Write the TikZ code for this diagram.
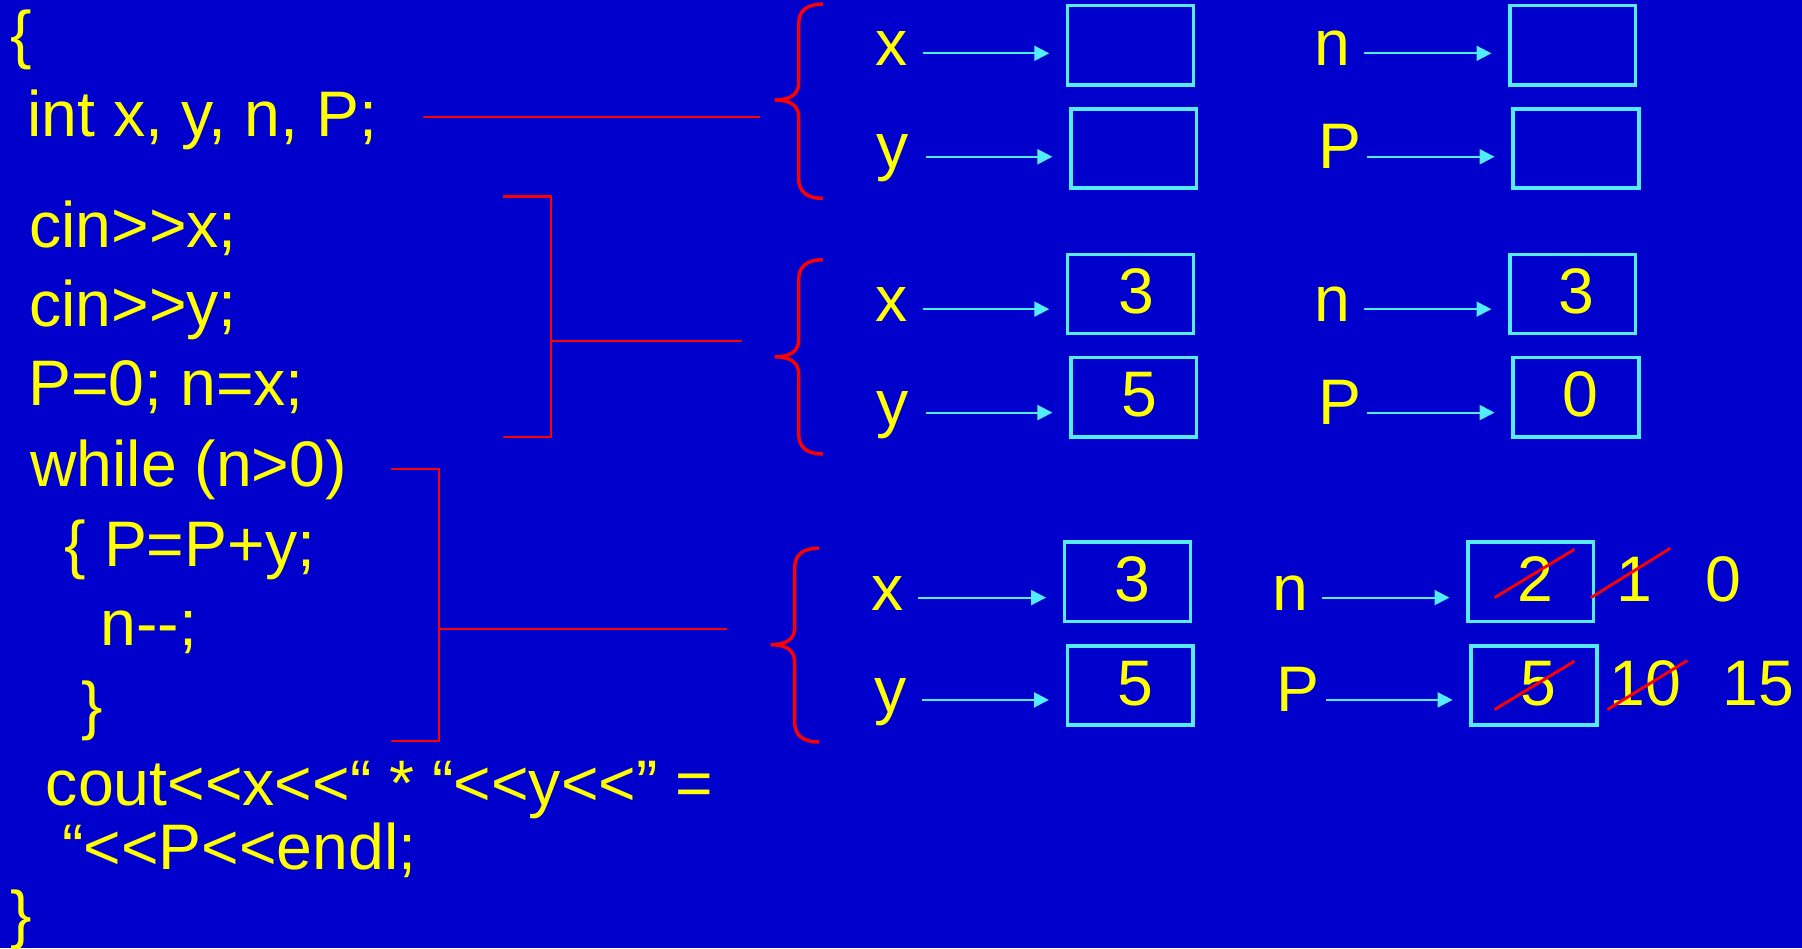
\documentclass[tikz,border=0pt]{standalone}
\usepackage{fontspec}
\setmainfont{Liberation Sans}
\usetikzlibrary{arrows.meta}
\definecolor{bgblue}{RGB}{0,0,204}
\definecolor{codeyellow}{RGB}{255,255,0}
\definecolor{linered}{RGB}{255,0,0}
\definecolor{boxcyan}{RGB}{85,235,255}
\newcommand\redcurly[4]{% #1 vertical x, #2 top y, #3 tip y, #4 bottom y
  \draw[curly] ({#1+21},#2) .. controls ({#1+7},#2) and (#1,{#2+6}) .. (#1,{#2+17})
    -- (#1,{#3-15}) .. controls (#1,{#3-5}) and ({#1-7},#3) .. ({#1-21},#3)
    .. controls ({#1-7},#3) and (#1,{#3+5}) .. (#1,{#3+15})
    -- (#1,{#4-17}) .. controls (#1,{#4-6}) and ({#1+7},#4) .. ({#1+21},#4);}
\begin{document}
\begin{tikzpicture}[x=1pt,y=-1pt,
  code/.style={anchor=base west, inner sep=0pt, outer sep=0pt, text=codeyellow, font=\fontsize{56}{60}\selectfont},
  lbl/.style={code, font=\fontsize{56}{60}\selectfont},
  digit/.style={anchor=base, inner sep=0pt, outer sep=0pt, text=codeyellow, font=\fontsize{56}{60}\selectfont},
  membox/.style={draw=boxcyan, line width=3pt, minimum width=109.5pt, minimum height=69pt, inner sep=0pt, outer sep=0pt},
  arr/.style={draw=boxcyan, line width=1.8pt, -{Triangle[length=13pt,width=13pt]}, shorten >=16pt},
  wire/.style={draw=linered, line width=1.8pt},
  curly/.style={draw=linered, line width=3pt},
  strike/.style={draw=linered, line width=2.5pt}]
\useasboundingbox (0,0) rectangle (1568,825);
\fill[bgblue] (0,0) rectangle (1568,825);

% code
\node[code] (t0) at (9.5,49) {\{};
\node[code] (t1) at (24,119) {int x, y, n, P;};
\node[code] (t2) at (25.5,215) {cin>{}>x;};
\node[code] (t3) at (25.5,284) {cin>{}>y;};
\node[code] (t4) at (24.6,353) {P=0; n=x;};
\node[code] (t5) at (26.3,423) {while (n>0)};
\node[code] (t6) at (56.3,493) {\{ P=P+y;};
\node[code] (t7) at (87.4,562) {n-{}-;};
\node[code] (t8) at (71.3,633) {\}};
\node[code] (t9) at (40,701) {cout<{}<x<{}<“ * “<{}<y<{}<” =};
\node[code] (t10) at (54,757) {“<{}<P<{}<endl;};
\node[code] (t11) at (9.5,815) {\}};

% connectors
\coordinate (c1a) at (368,101.5); \coordinate (c1b) at (661,101.5);
\draw[wire] (c1a) -- (c1b);
\coordinate (c2t) at (438,171); \coordinate (c2b) at (438,380);
\coordinate (c2m) at (479.6,296.6); \coordinate (c2e) at (646,296.6);
\draw[wire] (c2t) -- (c2t -| c2m) -- (c2b -| c2m) -- (c2b);
\draw[wire] (c2m) -- (c2e);
\coordinate (c3t) at (340,408); \coordinate (c3b) at (340,645);
\coordinate (c3m) at (382,547.5); \coordinate (c3e) at (633,547.5);
\draw[wire] (c3t) -- (c3t -| c3m) -- (c3b -| c3m) -- (c3b);
\draw[wire] (c3m) -- (c3e);

% braces
\redcurly{695}{3.5}{87}{172.6}
\redcurly{695}{226}{310.5}{395}
\redcurly{691.5}{477}{561}{645.6}

% group 1
\node[membox] (b1x) at (983.75,39.5) {};
\node[membox] (b1y) at (986.5,129.2) {};
\node[membox] (b1n) at (1368.5,39.5) {};
\node[membox] (b1p) at (1371.25,129.2) {};
\node[lbl] (l1x) at (761.5,57.2) {x};
\node[lbl] (l1y) at (763,147) {y};
\node[lbl] (l1n) at (1143.5,57.2) {n};
\node[lbl] (l1p) at (1147.6,146.5) {P};
\coordinate (s1x) at (803,46.4); \draw[arr] (s1x) -- (s1x -| b1x.west);
\coordinate (s1y) at (805.4,136.4); \draw[arr] (s1y) -- (s1y -| b1y.west);
\coordinate (s1n) at (1186.5,46.4); \draw[arr] (s1n) -- (s1n -| b1n.west);
\coordinate (s1p) at (1189.5,136.4); \draw[arr] (s1p) -- (s1p -| b1p.west);

% group 2
\node[membox] (b2x) at (983.75,255.8) {};
\node[membox] (b2y) at (986.5,345.75) {};
\node[membox] (b2n) at (1368.5,255.8) {};
\node[membox] (b2p) at (1371.25,345.75) {};
\node[lbl] (l2x) at (761.5,280) {x};
\node[lbl] (l2y) at (763,370) {y};
\node[lbl] (l2n) at (1143.5,280) {n};
\node[lbl] (l2p) at (1147.6,369.5) {P};
\coordinate (s2x) at (803,269); \draw[arr] (s2x) -- (s2x -| b2x.west);
\coordinate (s2y) at (805.4,359); \draw[arr] (s2y) -- (s2y -| b2y.west);
\coordinate (s2n) at (1186.5,269); \draw[arr] (s2n) -- (s2n -| b2n.west);
\coordinate (s2p) at (1189.5,359); \draw[arr] (s2p) -- (s2p -| b2p.west);
\node[digit] (d2x) at (988.5,272.6) {3};
\node[digit] (d2y) at (991,362.7) {5};
\node[digit] (d2n) at (1372,272.6) {3};
\node[digit] (d2p) at (1375,362.7) {0};

% group 3
\node[membox] (b3x) at (981,506.3) {};
\node[membox] (b3y) at (983.5,596.5) {};
\node[membox] (b3n) at (1332,506.3) {};
\node[membox] (b3p) at (1334.75,596.5) {};
\node[lbl] (l3x) at (758,531) {x};
\node[lbl] (l3y) at (760.5,620) {y};
\node[lbl] (l3n) at (1107.4,531) {n};
\node[lbl] (l3p) at (1111,619.4) {P};
\coordinate (s3x) at (799,520); \draw[arr] (s3x) -- (s3x -| b3x.west);
\coordinate (s3y) at (802,609); \draw[arr] (s3y) -- (s3y -| b3y.west);
\coordinate (s3n) at (1150.6,520); \draw[arr] (s3n) -- (s3n -| b3n.west);
\coordinate (s3p) at (1154,609); \draw[arr] (s3p) -- (s3p -| b3p.west);
\node[digit] (d3x) at (985.5,523.6) {3};
\node[digit] (d3y) at (988,613.6) {5};
\node[digit] (d3n) at (1335.7,523.6) {2};
\node[digit] (d3n1) at (1422,523.6) {1};
\node[digit] (d3n0) at (1500,523.6) {0};
\node[digit] (d3p) at (1339,613.6) {5};
\node[digit] (d3p10) at (1432,613.6) {10};
\node[digit] (d3p15) at (1530,613.6) {15};

% strike-outs
\draw[strike] (1300.5,520) -- (1370,478);
\draw[strike] (1384.3,520) -- (1453.5,477);
\draw[strike] (1300.5,617.4) -- (1370,575.3);
\draw[strike] (1398.7,617.4) -- (1468.2,574.7);
\end{tikzpicture}
\end{document}
